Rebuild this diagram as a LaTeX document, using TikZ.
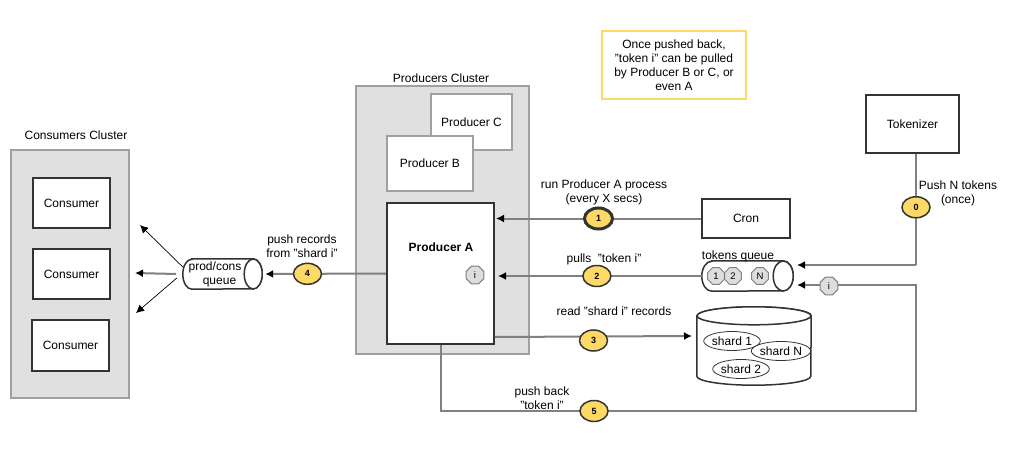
\documentclass[tikz,border=0pt]{standalone}
\usepackage{fontspec}
\setmainfont{Liberation Sans}
\usetikzlibrary{arrows.meta,shapes.geometric}

\definecolor{linegray}{HTML}{808080}
\definecolor{boxdark}{HTML}{333333}
\definecolor{boxlight}{HTML}{A0A0A0}
\definecolor{clusterfill}{HTML}{E0E0E0}
\definecolor{stepyellow}{HTML}{FFD966}
\definecolor{tokengray}{HTML}{DDDDDD}

\tikzset{
  every node/.style={font=\fontsize{12}{14}\selectfont, inner sep=0pt},
  box/.style={draw=boxdark, line width=2pt, fill=white},
  lightbox/.style={draw=boxlight, line width=2pt, fill=white},
  cluster/.style={draw=boxlight, line width=1.5pt, fill=clusterfill},
  tubeline/.style={draw=boxdark, line width=1.5pt, fill=white},
  stepdot/.style={ellipse, draw=boxdark, line width=1.5pt, fill=stepyellow,
    minimum width=28, minimum height=21, font=\fontsize{9}{10}\selectfont\bfseries},
  token/.style={regular polygon, regular polygon sides=8, draw=gray, line width=1pt,
    fill=tokengray, minimum size=18, font=\fontsize{9.5}{10}\selectfont},
  shard/.style={ellipse, draw=boxdark, line width=0.8pt, fill=white, minimum width=52, minimum height=19},
  wire/.style={draw=linegray, line width=2pt},
  tip/.style={-{Latex[length=8pt,width=8pt,color=black]}},
  thinwire/.style={draw=black, line width=0.7pt, -{Latex[length=8pt,width=8pt]}},
}

\begin{document}
\begin{tikzpicture}[x=1pt, y=-1pt]
\useasboundingbox (0,0) rectangle (1034,460);

% clusters
\node[cluster, minimum width=118, minimum height=248] (cc) at (70,274) {};
\node (ccLabel) at (76,135) {Consumers Cluster};
\node[cluster, minimum width=173, minimum height=268] (pc) at (442.5,220) {};
\node (pcLabel) at (441,78) {Producers Cluster};

% consumers
\node[box, minimum width=77, minimum height=50] (c1) at (71.5,203) {Consumer};
\node[box, minimum width=77, minimum height=50] (c2) at (71.5,274) {Consumer};
\node[box, minimum width=77, minimum height=51] (c3) at (70.5,345.5) {Consumer};

% producers
\node[lightbox, minimum width=81, minimum height=56] (pC) at (471.5,122) {Producer C};
\node[lightbox, minimum width=86, minimum height=55] (pB) at (430,163.5) {Producer B};
\node[box, minimum width=107, minimum height=141] (pA) at (440.5,273.5) {};
\node[font=\fontsize{12}{14}\selectfont\bfseries] (pALabel) at (441,247) {Producer A};
\node[token, minimum size=19] (pAtok) at (475,275) {i};

% right side
\node[box, minimum width=88, minimum height=39] (cron) at (746,218.5) {Cron};
\node[box, minimum width=93, minimum height=58] (tok) at (912.5,124) {Tokenizer};
\node[draw=stepyellow, line width=2pt, minimum width=144, minimum height=68, align=center] (note) at (674,65)
  {Once pushed back,\\"token i" can be pulled\\by Producer B or C, or\\even A};

% prod/cons queue
\node[minimum width=79, minimum height=30] (pq) at (222.5,274) {};
\draw[tubeline] ([xshift=9pt]pq.north west) -- ([xshift=-9pt]pq.north east)
  arc[start angle=90, end angle=-90, x radius=9pt, y radius=15pt]
  -- ([xshift=9pt]pq.south west)
  arc[start angle=270, end angle=90, x radius=9pt, y radius=15pt] -- cycle;
\draw[tubeline] ([xshift=-9pt]pq.east) ellipse [x radius=9pt, y radius=15pt];
\node[align=center] (pqLabel) at (215,274) {prod/cons\\\hspace*{9pt}queue};

% tokens queue
\node[minimum width=91, minimum height=30] (tq) at (747.5,276) {};
\draw[tubeline] ([xshift=10pt]tq.north west) -- ([xshift=-10pt]tq.north east)
  arc[start angle=90, end angle=-90, x radius=10pt, y radius=15pt]
  -- ([xshift=10pt]tq.south west)
  arc[start angle=270, end angle=90, x radius=10pt, y radius=15pt] -- cycle;
\draw[tubeline] ([xshift=-10pt]tq.east) ellipse [x radius=10pt, y radius=15pt];
\node (tqLabel) at (738,256) {tokens queue};
\node[token] (t1) at (716,276) {1};
\node[token] (t2) at (733,276) {2};
\node[token] (tN) at (760,276) {N};

% shards store
\node[minimum width=114, minimum height=78] (db) at (754,346) {};
\draw[tubeline] ([yshift=-9pt]db.north west) -- ([yshift=9pt]db.south west)
  arc[start angle=180, end angle=360, x radius=57pt, y radius=9pt]
  -- ([yshift=-9pt]db.north east)
  arc[start angle=0, end angle=180, x radius=57pt, y radius=9pt] -- cycle;
\draw[tubeline] ([yshift=-9pt]db.north) ellipse [x radius=57pt, y radius=9pt];
\node[shard] (s1) at (732,341) {shard 1};
\node[shard] (sN) at (781,351) {shard N};
\node[shard] (s2) at (741,369) {shard 2};

% flows
\coordinate (pAout) at ([yshift=8pt]pA.south east);
\coordinate (dbIn) at (692,336);
\coordinate (tqTop) at (797,265);
\coordinate (tqLow) at (797,285);
\coordinate (loopA) at (441,411);
\coordinate (loopB) at (916,411);
\coordinate (loopC) at (916,285);
\coordinate (bend0) at (916,265);

\draw[wire, tip] (cron.west) -- ([xshift=1pt]cron.west -| pA.east)
  node[stepdot, line width=3pt, midway] (n1) {1};
\node[align=center] (n1Label) at (604,192) {run Producer A process\\(every X secs)};

\draw[wire, tip] (tq.west) -- ([xshift=3pt]tq.west -| pA.east)
  node[stepdot, midway, xshift=-3pt] (n2) {2};
\node (n2Label) at (604,259) {pulls \ "token i"};

\draw[wire, tip] (pAout) -- (dbIn) node[stepdot, midway, yshift=-4pt] (n3) {3};
\node (n3Label) at (614,311) {read "shard i" records};

\draw[wire, tip] (pA.west) -- ([xshift=3pt]pq.east) node[stepdot, pos=0.65] (n4) {4};
\node[align=center] (n4Label) at (302,246) {push records\\from "shard i"};

\draw[wire] (bend0 |- tok.south) -- (bend0) node[stepdot, pos=0.48] (n0) {0};
\draw[wire, tip] (bend0) -- (tqTop);
\node[align=center] (n0Label) at (958,193) {Push N tokens\\(once)};

\draw[wire, tip] (pA.south) -- (pA.south |- loopA) -- (loopB) -- (loopC) -- (tqLow);
\node[stepdot] (n5) at (594,411) {5};
\node[align=center] (n5Label) at (542,398) {push back\\"token i"};
\node[token, minimum size=19] (backTok) at (829,286) {i};

% fan out to consumers
\coordinate (fan1) at (140,225);
\coordinate (fan2) at (135,273);
\coordinate (fan3) at (136,313);
\draw[thinwire] ([yshift=7pt]pq.west) -- (fan1);
\draw[wire, tip] ([xshift=-7pt]pq.west) -- (fan2);
\draw[thinwire] ([xshift=-6pt,yshift=-4pt]pq.west) -- (fan3);
\end{tikzpicture}
\end{document}
